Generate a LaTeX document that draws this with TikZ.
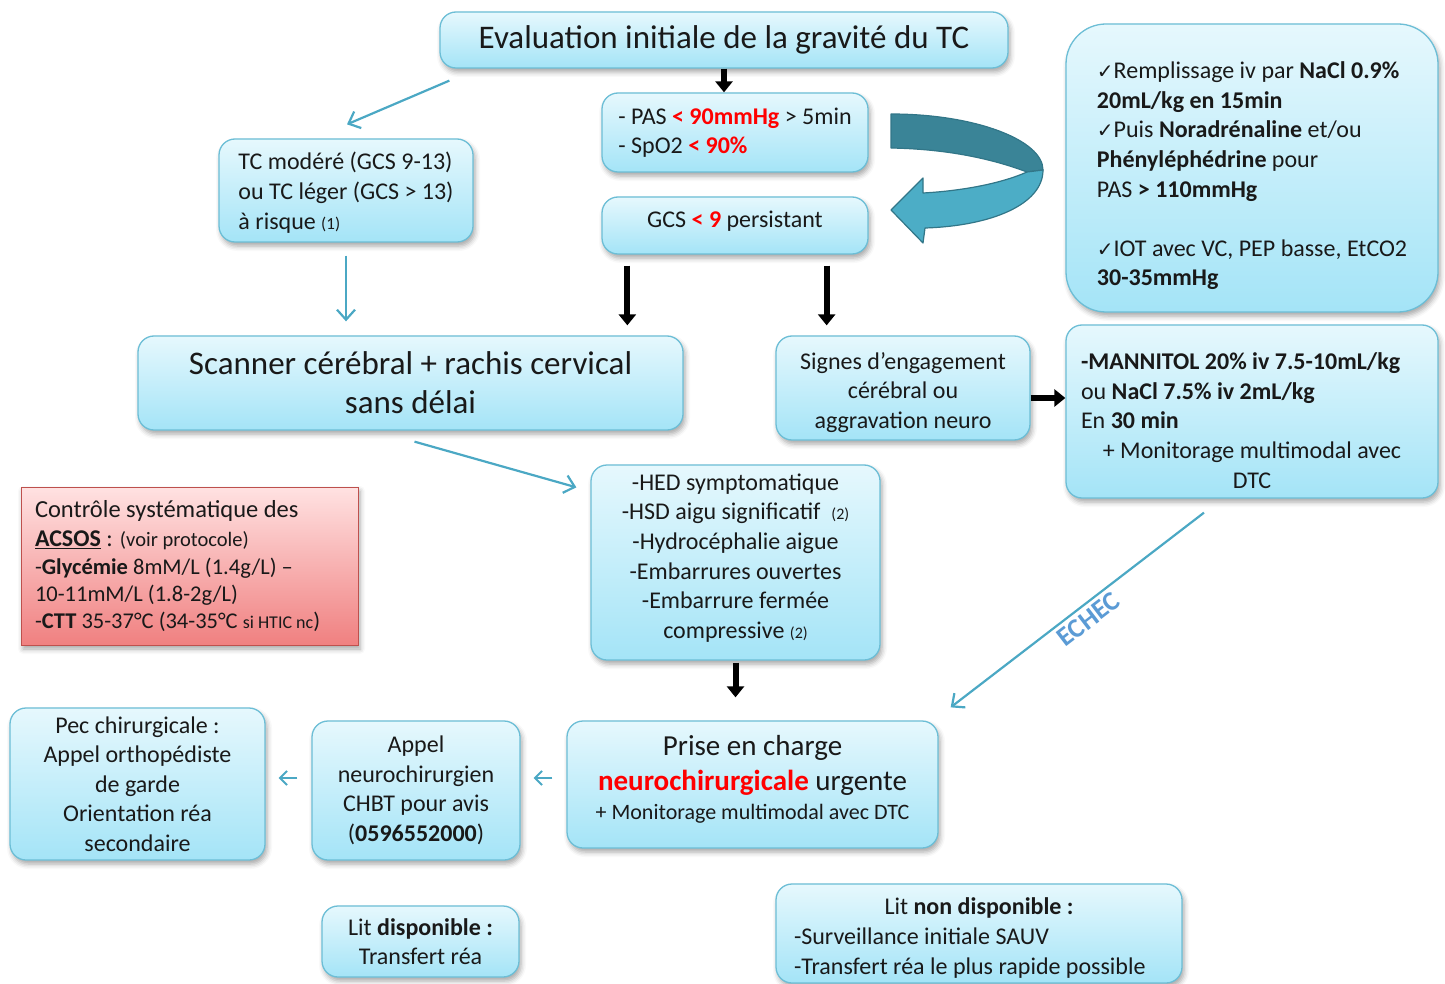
\documentclass[tikz,border=0pt]{standalone}
\usepackage{fontspec}
\setmainfont{Carlito}
\newfontfamily\symfont{DejaVu Sans}
\usepackage{tikz}
\usepackage{xcolor}
\usetikzlibrary{arrows.meta, positioning, calc, shadows.blur}

\definecolor{boxtop}{RGB}{230,248,253}
\definecolor{boxbot}{RGB}{164,228,247}
\definecolor{boxline}{RGB}{108,190,214}
\definecolor{redtop}{RGB}{255,226,226}
\definecolor{redbot}{RGB}{240,128,128}
\definecolor{redline}{RGB}{190,80,77}
\definecolor{flowblue}{RGB}{75,168,196}
\definecolor{tealdark}{RGB}{58,132,151}
\definecolor{teallight}{RGB}{76,173,198}
\definecolor{tealline}{RGB}{50,118,136}
\definecolor{echecblue}{RGB}{91,155,213}
\definecolor{inktext}{RGB}{25,25,25}

\newcommand{\chk}{{\symfont\fontsize{20}{20}\selectfont ✓}}
\newcommand{\bodysize}{\fontsize{24}{29.6}\selectfont}
\newcommand{\redb}[1]{\textcolor{red}{\bfseries #1}}
\newcommand{\plainspace}{\spaceskip=0pt\xspaceskip=0pt\relax}
\newcommand{\uppad}[1]{\rule{0pt}{#1}}          % taller first line: text goes down
\newcommand{\downpad}[1]{\rule[-#1]{0pt}{#1}}   % deeper last line: text goes up

\begin{document}
\begin{tikzpicture}[
    x=1pt, y=-1pt,              % 1 unit = 1 px of the slide, y going down
    font=\bodysize,
    text=inktext,
    box/.style={draw=boxline, line width=1.3pt, rounded corners=16pt,
        top color=boxtop, bottom color=boxbot, align=center, inner sep=4pt,
        blur shadow={shadow xshift=2pt, shadow yshift=-4pt,
            shadow blur radius=5pt, shadow opacity=35}},
    leftbox/.style={box, align=left},
    redbox/.style={draw=redline, line width=1pt, top color=redtop,
        bottom color=redbot, align=left,
        blur shadow={shadow xshift=2pt, shadow yshift=-4pt,
            shadow blur radius=5pt, shadow opacity=35}},
    heavyarrow/.style={line width=6pt, -{Triangle[length=11pt,width=17pt]}},
    thinarrow/.style={draw=flowblue, line width=2.2pt,
        -{Straight Barb[length=10pt,width=18pt]}},
    tinyarrow/.style={draw=flowblue, line width=2pt,
        -{Straight Barb[length=7pt,width=14pt]}},
    echeclab/.style={font=\fontsize{27}{27}\selectfont\bfseries,
        text=echecblue, sloped, below, inner sep=4pt},
]
\useasboundingbox (0,0) rectangle (1445,984);

% -------------------------------------------------
% Boxes
% -------------------------------------------------
\node[box, minimum width=568, minimum height=56, font=\fontsize{33}{38}\selectfont]
    (title) at (724,40) {Evaluation initiale de la gravité du TC};

\node[leftbox, minimum width=266, minimum height=79]
    (pas) at (735,132.5) {- PAS \redb{< 90mmHg} > 5min\\- SpO2 \redb{< 90\%}};
\node[box, minimum width=266, minimum height=57]
    (gcs) at (735,225.5) {GCS \redb{< 9} persistant\downpad{13pt}};

\node[leftbox, rounded corners=40pt, minimum width=372, minimum height=288]
    (remplissage) at (1252,168) {\uppad{32.5pt}\chk Remplissage iv par \textbf{NaCl 0.9\%}\\
    \textbf{20mL/kg en 15min}\\
    \chk Puis \textbf{Noradrénaline} et/ou\\
    \textbf{Phényléphédrine} pour\\
    PAS \textbf{> 110mmHg}\\[29.6pt]
    \chk IOT avec VC, PEP basse, EtCO2\\
    \textbf{30-35mmHg}};

\node[leftbox, minimum width=254, minimum height=103]
    (tcmod) at (346,190.5) {\uppad{22pt}TC modéré (GCS 9-13)\\ou TC léger (GCS > 13)\\
    à risque {\fontsize{17}{20}\selectfont (1)}};

\node[box, minimum width=545, minimum height=94, font=\fontsize{33}{39}\selectfont]
    (scanner) at (410.5,383) {Scanner cérébral + rachis cervical\\sans délai};

\node[box, minimum width=254, minimum height=104]
    (signes) at (903,388) {\uppad{26pt}Signes d’engagement\\cérébral ou\\aggravation neuro};

\node[box, text width=342, inner xsep=15, minimum height=173]
    (mannitol) at (1252,411.5) {\plainspace
    {\raggedright\uppad{35pt}\textbf{-MANNITOL 20\% iv 7.5-10mL/kg}\\
    ou \textbf{NaCl 7.5\% iv 2mL/kg}\\En \textbf{30 min}\par}%
    {\centering + Monitorage multimodal avec\\DTC\par}};

\node[redbox, text width=309, inner xsep=14, minimum height=158]
    (acsos) at (189.5,566) {\plainspace\raggedright
    {\fontsize{24.5}{29.6}\selectfont Contrôle systématique des}\\
    \underline{\textbf{ACSOS}} : {\fontsize{20.5}{24}\selectfont (voir protocole)}\\[-1.6pt]
    {\fontsize{22.5}{27}\selectfont -\textbf{Glycémie} 8mM/L (1.4g/L) –}\\[-2.6pt]
    {\fontsize{22.5}{27}\selectfont 10-11mM/L (1.8-2g/L)}\\[-2.6pt]
    {\fontsize{22.5}{27}\selectfont -\textbf{CTT} 35-37°C (34-35°C {\fontsize{18}{20}\selectfont si HTIC nc})}\par};

\node[box, minimum width=289, minimum height=195]
    (hed) at (735.5,562.5) {-HED symptomatique\\
    -HSD aigu significatif\ \ {\fontsize{16}{20}\selectfont (2)}\\
    -Hydrocéphalie aigue\\-Embarrures ouvertes\\-Embarrure fermée\\
    compressive {\fontsize{16}{20}\selectfont (2)}\downpad{13pt}};

\node[box, minimum width=371, minimum height=127, font=\fontsize{29}{35}\selectfont]
    (prise) at (752.5,784.5) {Prise en charge\\\redb{neurochirurgicale} urgente\\[-6pt]
    {\fontsize{22}{26}\selectfont + Monitorage multimodal avec DTC}\downpad{15pt}};

\node[box, minimum width=208, minimum height=139]
    (appel) at (416,790.5) {Appel\\neurochirurgien\\CHBT pour avis\\(\textbf{0596552000})};

\node[box, minimum width=255, minimum height=152]
    (pec) at (137.5,784) {Pec chirurgicale :\\Appel orthopédiste\\de garde\\
    Orientation réa\\secondaire};

\node[box, minimum width=197, minimum height=71]
    (litdispo) at (420.5,941.5) {Lit \textbf{disponible :}\\Transfert réa};

\node[box, text width=370, inner xsep=18, minimum height=99]
    (litnon) at (979,933.5) {\plainspace
    {\centering\uppad{26pt}Lit \textbf{non disponible :}\par}%
    {\raggedright -Surveillance initiale SAUV\\-Transfert réa le plus rapide possible\par}};

% -------------------------------------------------
% Big turning arrow (PAS/SpO2 -> GCS)
% -------------------------------------------------
\filldraw[fill=tealdark, draw=tealline, line width=1.2pt, line join=round]
    (891,114) .. controls (975,114) and (1043,140) .. (1043,170)
    -- (1027,172) .. controls (990,158) and (945,149) .. (891,148) -- cycle;
\filldraw[fill=teallight, draw=tealline, line width=1.2pt, line join=round]
    (1043,170) .. controls (1043,205) and (990,226) .. (925,228)
    -- (923,243) -- (891,210) -- (923,178) -- (923,193)
    .. controls (960,191) and (1000,184) .. (1027,172) -- cycle;

% -------------------------------------------------
% Connectors
% -------------------------------------------------
\coordinate (g1) at ([xshift=26pt, yshift=-11pt]gcs.south west);
\coordinate (g2) at ([xshift=-42pt, yshift=-11pt]gcs.south east);
\coordinate (s1) at ([yshift=-10pt]signes.east);
\coordinate (p1) at ([yshift=6.5pt]prise.west);
\coordinate (a1) at ([yshift=12.5pt]appel.west);

\draw[heavyarrow] (title.south) -- (title.south |- pas.north);
\draw[heavyarrow, shorten >=10pt] (g1) -- (g1 |- scanner.north);
\draw[heavyarrow, shorten >=10pt] (g2) -- (g2 |- signes.north);
\draw[heavyarrow] (s1) -- (s1 -| mannitol.west);
\draw[heavyarrow, shorten <=2pt, shorten >=23pt] (hed.south) -- (hed.south |- prise.north);

\draw[thinarrow] ([xshift=10pt, yshift=-12pt]title.south west)
    -- ([xshift=1pt, yshift=14pt]tcmod.north);
\draw[thinarrow, shorten <=13pt, shorten >=14pt] (tcmod.south) -- (scanner.north -| tcmod.south);
\draw[thinarrow] ([xshift=4pt, yshift=-11pt]scanner.south)
    -- ([xshift=-14pt, yshift=-23pt]hed.north west);
\draw[thinarrow] ([xshift=-48pt, yshift=-14pt]mannitol.south)
    -- node[echeclab, pos=0.49] {ECHEC} ([xshift=12pt, yshift=13pt]prise.north east);
\draw[tinyarrow, shorten <=14pt, shorten >=13pt] (p1) -- (p1 -| appel.east);
\draw[tinyarrow, shorten <=14pt, shorten >=13pt] (a1) -- (a1 -| pec.east);

\end{tikzpicture}
\end{document}
